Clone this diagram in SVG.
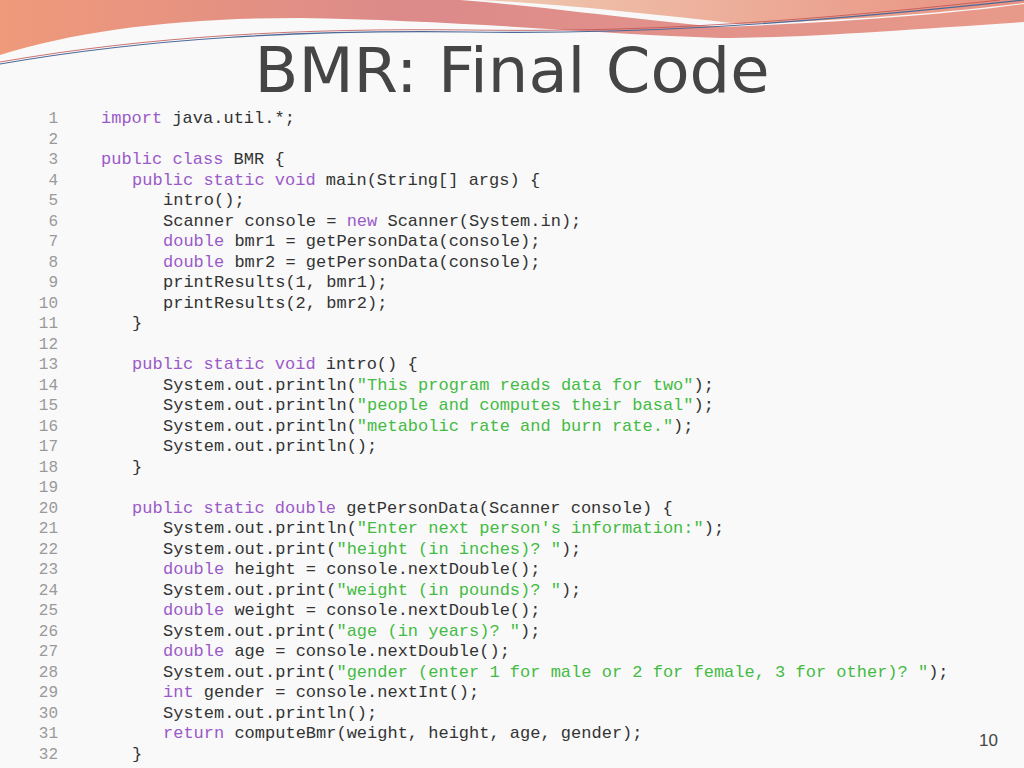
<svg xmlns="http://www.w3.org/2000/svg" width="1024" height="768" viewBox="0 0 1024 768">
<defs>
<linearGradient id="g1" x1="0" y1="0" x2="1" y2="0"><stop offset="0" stop-color="#ef9a7a"/><stop offset="0.4" stop-color="#dc8a8a"/><stop offset="1" stop-color="#e89a8a"/></linearGradient>
<linearGradient id="g2" x1="0" y1="0" x2="1" y2="0"><stop offset="0" stop-color="#f0c8b0"/><stop offset="1" stop-color="#e89080"/></linearGradient>
</defs>
<style>
.c{font-family:"Liberation Mono","Courier New",monospace;font-size:17px;fill:#333;white-space:pre}
.n{font-family:"Liberation Mono",monospace;font-size:16px;fill:#999;text-anchor:end}
.k{fill:#9b59c9}.s{fill:#44bb44}
</style>
<rect width="1024" height="768" fill="#f9f9f9"/>
<g id="banner">
<path d="M0,0 H1024 V22 C900,30 800,38 720,38 C600,34 450,20 300,18 C180,18 80,30 0,55 Z" fill="url(#g1)"/>
<path d="M460,0 H1024 V4 C950,14 850,22 720,27 C620,18 540,6 460,0 Z" fill="#f8f8f8"/>
<path d="M480,0 H1024 V3 C950,12 860,20 740,24 C650,14 560,4 480,0 Z" fill="url(#g2)"/>
<path d="M0,64 C150,38 300,30 470,32 C620,34 760,28 1024,0" fill="none" stroke="#4a6a9a" stroke-width="1.2"/>
<path d="M0,62 C150,36 300,28 470,30 C620,32 760,26 1000,0" fill="none" stroke="#c05050" stroke-width="0.8"/>
</g>
<text x="512" y="92" text-anchor="middle" font-family="DejaVu Sans,sans-serif" font-size="63" fill="#454545" textLength="515" lengthAdjust="spacingAndGlyphs">BMR: Final Code</text>
<g id="lines">
<text class="n" x="58" y="123">1</text><text class="n" x="58" y="143.5">2</text><text class="n" x="58" y="164">3</text><text class="n" x="58" y="184.5">4</text><text class="n" x="58" y="205">5</text><text class="n" x="58" y="225.5">6</text><text class="n" x="58" y="246">7</text><text class="n" x="58" y="266.5">8</text><text class="n" x="58" y="287">9</text><text class="n" x="58" y="307.5">10</text><text class="n" x="58" y="328">11</text><text class="n" x="58" y="348.5">12</text><text class="n" x="58" y="369">13</text><text class="n" x="58" y="389.5">14</text><text class="n" x="58" y="410">15</text><text class="n" x="58" y="430.5">16</text><text class="n" x="58" y="451">17</text><text class="n" x="58" y="471.5">18</text><text class="n" x="58" y="492">19</text><text class="n" x="58" y="512.5">20</text><text class="n" x="58" y="533">21</text><text class="n" x="58" y="553.5">22</text><text class="n" x="58" y="574">23</text><text class="n" x="58" y="594.5">24</text><text class="n" x="58" y="615">25</text><text class="n" x="58" y="635.5">26</text><text class="n" x="58" y="656">27</text><text class="n" x="58" y="676.5">28</text><text class="n" x="58" y="697">29</text><text class="n" x="58" y="717.5">30</text><text class="n" x="58" y="738">31</text><text class="n" x="58" y="758.5">32</text>
</g>
<g id="code">
<text class="c" x="101" y="123"><tspan class="k">import</tspan> java.util.*;</text>
<text class="c" x="101" y="164"><tspan class="k">public class</tspan> BMR {</text>
<text class="c" x="132" y="184.5"><tspan class="k">public static void</tspan> main(String[] args) {</text>
<text class="c" x="163" y="205">intro();</text>
<text class="c" x="163" y="225.5">Scanner console = <tspan class="k">new</tspan> Scanner(System.in);</text>
<text class="c" x="163" y="246"><tspan class="k">double</tspan> bmr1 = getPersonData(console);</text>
<text class="c" x="163" y="266.5"><tspan class="k">double</tspan> bmr2 = getPersonData(console);</text>
<text class="c" x="163" y="287">printResults(1, bmr1);</text>
<text class="c" x="163" y="307.5">printResults(2, bmr2);</text>
<text class="c" x="132" y="328">}</text>
<text class="c" x="132" y="369"><tspan class="k">public static void</tspan> intro() {</text>
<text class="c" x="163" y="389.5">System.out.println(<tspan class="s">"This program reads data for two"</tspan>);</text>
<text class="c" x="163" y="410">System.out.println(<tspan class="s">"people and computes their basal"</tspan>);</text>
<text class="c" x="163" y="430.5">System.out.println(<tspan class="s">"metabolic rate and burn rate."</tspan>);</text>
<text class="c" x="163" y="451">System.out.println();</text>
<text class="c" x="132" y="471.5">}</text>
<text class="c" x="132" y="512.5"><tspan class="k">public static double</tspan> getPersonData(Scanner console) {</text>
<text class="c" x="163" y="533">System.out.println(<tspan class="s">"Enter next person's information:"</tspan>);</text>
<text class="c" x="163" y="553.5">System.out.print(<tspan class="s">"height (in inches)? "</tspan>);</text>
<text class="c" x="163" y="574"><tspan class="k">double</tspan> height = console.nextDouble();</text>
<text class="c" x="163" y="594.5">System.out.print(<tspan class="s">"weight (in pounds)? "</tspan>);</text>
<text class="c" x="163" y="615"><tspan class="k">double</tspan> weight = console.nextDouble();</text>
<text class="c" x="163" y="635.5">System.out.print(<tspan class="s">"age (in years)? "</tspan>);</text>
<text class="c" x="163" y="656"><tspan class="k">double</tspan> age = console.nextDouble();</text>
<text class="c" x="163" y="676.5">System.out.print(<tspan class="s">"gender (enter 1 for male or 2 for female, 3 for other)? "</tspan>);</text>
<text class="c" x="163" y="697"><tspan class="k">int</tspan> gender = console.nextInt();</text>
<text class="c" x="163" y="717.5">System.out.println();</text>
<text class="c" x="163" y="738"><tspan class="k">return</tspan> computeBmr(weight, height, age, gender);</text>
<text class="c" x="132" y="758.5">}</text>
</g>
<text x="998" y="746" text-anchor="end" font-family="Liberation Sans,sans-serif" font-size="17" fill="#444">10</text>
</svg>
